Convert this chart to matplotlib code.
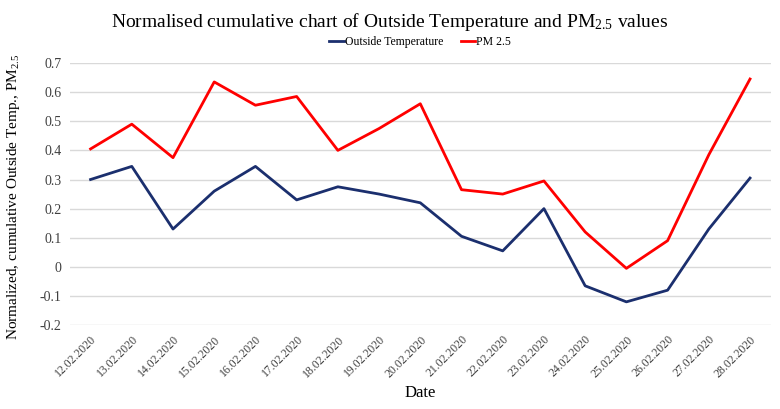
import matplotlib
matplotlib.use('Agg')
import matplotlib.pyplot as plt

# data
dates = ['12.02.2020', '13.02.2020', '14.02.2020', '15.02.2020', '16.02.2020',
         '17.02.2020', '18.02.2020', '19.02.2020', '20.02.2020', '21.02.2020',
         '22.02.2020', '23.02.2020', '24.02.2020', '25.02.2020', '26.02.2020',
         '27.02.2020', '28.02.2020']
temp = [0.30, 0.345, 0.13, 0.26, 0.345, 0.23, 0.275, 0.25, 0.22, 0.105,
        0.055, 0.20, -0.065, -0.12, -0.08, 0.13, 0.305]
pm25 = [0.405, 0.49, 0.375, 0.635, 0.555, 0.585, 0.40, 0.475, 0.56, 0.265,
        0.25, 0.295, 0.12, -0.005, 0.09, 0.385, 0.645]
yticks = [-0.2, -0.1, 0, 0.1, 0.2, 0.3, 0.4, 0.5, 0.6, 0.7]

plt.rcParams['font.family'] = ['Liberation Serif', 'DejaVu Serif']
plt.rcParams['mathtext.fontset'] = 'custom'
plt.rcParams['mathtext.rm'] = 'Liberation Serif'
plt.rcParams['mathtext.it'] = 'Liberation Serif:italic'

fig = plt.figure(figsize=(7.8, 4.09), dpi=100)
ax = fig.add_axes([0.0897, 0.205, 0.8983, 0.641])

x = list(range(len(dates)))
ax.plot(x, temp, color='#1b2f6e', lw=2, label='Outside Temperature')
ax.plot(x, pm25, color='#ff0000', lw=2, label='PM 2.5')

ax.set_xlim(-0.5, len(dates) - 0.5)
ax.set_ylim(-0.2, 0.7)
ax.set_yticks(yticks)
ax.set_yticklabels(['%g' % v for v in yticks], fontsize=10, color='#404040')
ax.set_xticks(x)
ax.set_xticklabels(dates, rotation=45, ha='right', rotation_mode='anchor',
                   fontsize=8.5, color='#404040')
ax.tick_params(length=0, pad=6)
ax.grid(axis='y', color='#d9d9d9', lw=1)
ax.set_axisbelow(True)
for s in ax.spines.values():
    s.set_visible(False)

ax.set_xlabel('Date', fontsize=12)
ax.set_ylabel('Normalized, cumulative Outside Temp., PM$_{2.5}$', fontsize=11)
ax.yaxis.set_label_coords(-0.068, 0.49)

fig.text(0.5, 0.946, 'Normalised cumulative chart of Outside Temperature and PM$_{2.5}$ values',
         ha='center', va='center', fontsize=14)
ax.legend(loc='center', bbox_to_anchor=(0.5, 1.08), ncol=2, frameon=False,
          fontsize=8.5, handlelength=1.2, handletextpad=0.1, columnspacing=1.5)

fig.savefig('out.png', dpi=100)
